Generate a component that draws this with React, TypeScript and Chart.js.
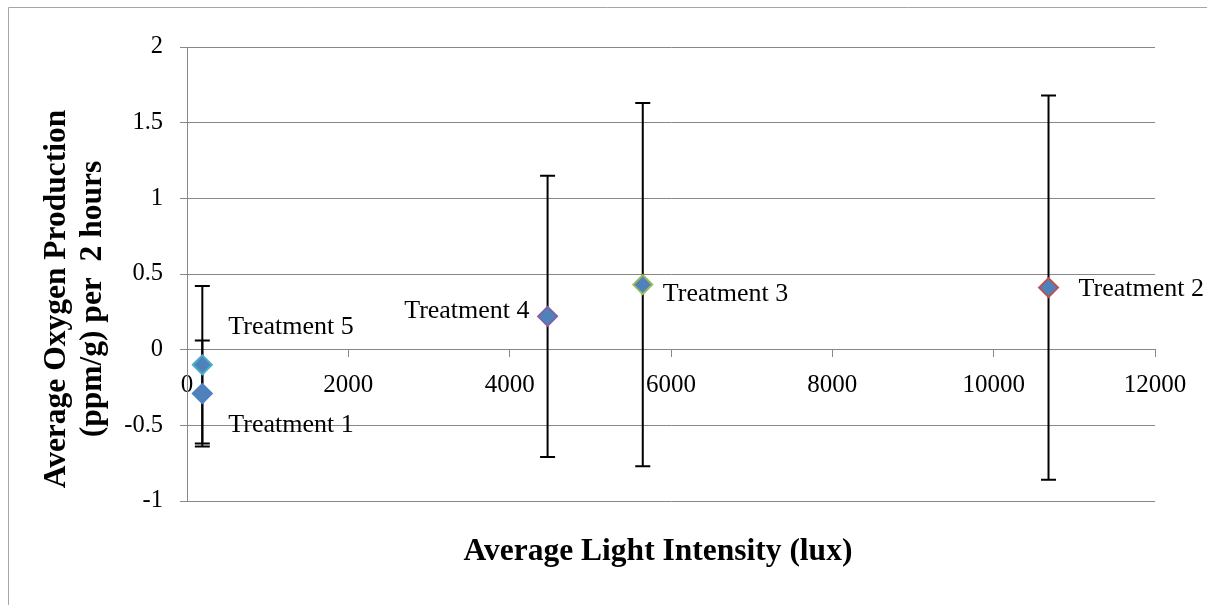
import React, { useEffect, useRef } from 'react';
import { Chart, registerables } from 'chart.js';

Chart.register(...registerables);

// ---- data ----
const treatments = ['Treatment 1', 'Treatment 2', 'Treatment 3', 'Treatment 4', 'Treatment 5'];
const lightIntensity = [190, 10680, 5650, 4470, 190];
const oxygenProduction = [-0.29, 0.41, 0.43, 0.22, -0.1];
const errorAmounts = [0.35, 1.27, 1.2, 0.93, 0.52];
const xTickValues = [0, 2000, 4000, 6000, 8000, 10000, 12000];
const yTickValues = [-1, -0.5, 0, 0.5, 1, 1.5, 2];

// ---- styles ----
const markerBorders = ['#4F81BD', '#C0504D', '#9BBB59', '#8064A2', '#4BACC6'];
const labelPlacement = [
  { dx: 26, dy: 32, align: 'left' },
  { dx: 30, dy: 2, align: 'left' },
  { dx: 20, dy: 10, align: 'left' },
  { dx: -18, dy: -5, align: 'right' },
  { dx: 26, dy: -38, align: 'left' },
];
const FONT = "'Liberation Serif', 'Times New Roman', serif";
const GRID = '#888888';

export default function App() {
  const ref = useRef<HTMLCanvasElement>(null);

  useEffect(() => {
    const canvas = ref.current;
    if (!canvas) return;

    const background = {
      id: 'background',
      beforeDraw(chart: any) {
        const ctx = chart.ctx;
        ctx.save();
        ctx.fillStyle = '#ffffff';
        ctx.fillRect(0, 0, chart.width, chart.height);
        ctx.strokeStyle = '#a6a6a6';
        ctx.lineWidth = 1;
        ctx.beginPath();
        ctx.moveTo(8.5, chart.height);
        ctx.lineTo(8.5, 7.5);
        ctx.lineTo(chart.width, 7.5);
        ctx.stroke();
        ctx.restore();
      },
    };

    const errorBars = {
      id: 'errorBars',
      beforeDatasetsDraw(chart: any) {
        const ctx = chart.ctx;
        const xs = chart.scales.x;
        const ys = chart.scales.y;
        ctx.save();
        ctx.strokeStyle = '#000000';
        ctx.lineWidth = 2;
        const cap = 7.5;
        lightIntensity.forEach((xv, i) => {
          const px = xs.getPixelForValue(xv);
          const top = ys.getPixelForValue(oxygenProduction[i] + errorAmounts[i]);
          const bot = ys.getPixelForValue(oxygenProduction[i] - errorAmounts[i]);
          ctx.beginPath();
          ctx.moveTo(px, top);
          ctx.lineTo(px, bot);
          ctx.moveTo(px - cap, top);
          ctx.lineTo(px + cap, top);
          ctx.moveTo(px - cap, bot);
          ctx.lineTo(px + cap, bot);
          ctx.stroke();
        });
        ctx.restore();
      },
    };

    const pointLabels = {
      id: 'pointLabels',
      afterDatasetsDraw(chart: any) {
        const ctx = chart.ctx;
        const xs = chart.scales.x;
        const ys = chart.scales.y;
        ctx.save();
        ctx.fillStyle = '#000000';
        ctx.font = `26px ${FONT}`;
        ctx.textBaseline = 'middle';
        treatments.forEach((name, i) => {
          const p = labelPlacement[i];
          const px = xs.getPixelForValue(lightIntensity[i]);
          const py = ys.getPixelForValue(oxygenProduction[i]);
          ctx.textAlign = p.align as CanvasTextAlign;
          ctx.fillText(name, px + p.dx, py + p.dy);
        });
        ctx.restore();
      },
    };

    const axisTitles = {
      id: 'axisTitles',
      afterDraw(chart: any) {
        const ctx = chart.ctx;
        ctx.save();
        ctx.fillStyle = '#000000';
        ctx.font = `bold 31.5px ${FONT}`;
        ctx.textAlign = 'center';
        ctx.textBaseline = 'alphabetic';
        ctx.fillText('Average Light Intensity (lux)', 658, 560);
        ctx.translate(65, 299);
        ctx.rotate(-Math.PI / 2);
        ctx.fillText('Average Oxygen Production', 0, 0);
        ctx.fillText('(ppm/g) per  2 hours', 0, 36);
        ctx.restore();
      },
    };

    const chart = new Chart(canvas, {
      type: 'scatter',
      data: {
        datasets: [
          {
            label: 'Oxygen',
            data: lightIntensity.map((x, i) => ({ x, y: oxygenProduction[i] })),
            pointStyle: 'rectRot',
            pointRadius: 9.5,
            pointBorderWidth: 2,
            pointBackgroundColor: '#4F81BD',
            pointBorderColor: markerBorders,
            showLine: false,
          },
        ],
      },
      options: {
        responsive: false,
        animation: false,
        devicePixelRatio: 1,
        layout: { padding: { left: 0, top: 47, right: 52, bottom: 104 } },
        plugins: {
          legend: { display: false },
          tooltip: { enabled: false },
        },
        scales: {
          x: {
            type: 'linear',
            position: { y: 0 } as any,
            min: xTickValues[0],
            max: xTickValues[xTickValues.length - 1],
            afterBuildTicks: (s: any) => {
              s.ticks = xTickValues.map((v) => ({ value: v }));
            },
            ticks: {
              callback: (v: any) => String(v),
              font: { family: FONT, size: 25 },
              color: '#000000',
              padding: 14,
              maxRotation: 0,
              autoSkip: false,
            },
            grid: { drawOnChartArea: false, drawTicks: true, tickLength: 7, color: GRID, lineWidth: 1 },
            border: { color: GRID, width: 1 },
          },
          y: {
            type: 'linear',
            min: yTickValues[0],
            max: yTickValues[yTickValues.length - 1],
            afterBuildTicks: (s: any) => {
              s.ticks = yTickValues.map((v) => ({ value: v }));
            },
            afterFit: (s: any) => {
              s.width = 187;
            },
            ticks: {
              callback: (v: any) => String(v),
              font: { family: FONT, size: 24.5 },
              color: '#000000',
              padding: 17,
              autoSkip: false,
            },
            grid: { color: GRID, lineWidth: 1, tickLength: 7 },
            border: { color: GRID, width: 1 },
          },
        },
      },
      plugins: [background, errorBars, pointLabels, axisTitles],
    });

    return () => chart.destroy();
  }, []);

  return (
    <div style={{ position: 'absolute', left: 0, top: 0, width: 1207, height: 605 }}>
      <canvas ref={ref} width={1207} height={605} style={{ display: 'block' }} />
    </div>
  );
}
